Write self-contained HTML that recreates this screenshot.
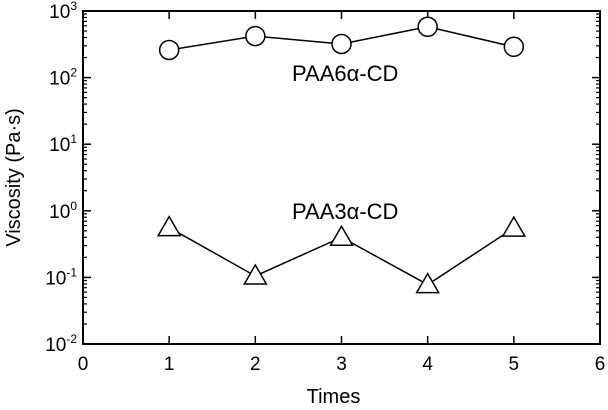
<!DOCTYPE html>
<html><head><meta charset="utf-8"><style>
html,body{margin:0;padding:0;background:#fff;}
svg{display:block;font-family:"Liberation Sans",sans-serif;}
</style></head><body>
<svg id="chart" width="608" height="410" viewBox="0 0 608 410" xmlns="http://www.w3.org/2000/svg"></svg>
<script>
const categories=[1,2,3,4,5];
const paa6Values=[260,420,320,580,290];
const paa3Values=[0.56,0.105,0.4,0.078,0.55];
const xTickLabels=[0,1,2,3,4,5,6];
const yDecades=[-2,-1,0,1,2,3];

const L=83,R=600,T=11,B=344;
const xs=v=>L+(v-0)/(6-0)*(R-L);
const ys=v=>B-(Math.log10(v)+2)/5*(B-T);
const NS="http://www.w3.org/2000/svg";
const svg=document.getElementById('chart');
function mk(tag,attrs,parent){const e=document.createElementNS(NS,tag);for(const k in attrs)e.setAttribute(k,attrs[k]);(parent||svg).appendChild(e);return e;}

const frame=mk('rect',{x:L,y:T,width:R-L,height:B-T,fill:'none',stroke:'#000','stroke-width':2});



yDecades.forEach(d=>{
  const y=ys(Math.pow(10,d));
  mk('line',{x1:L,x2:L+8,y1:y,y2:y,stroke:'#000','stroke-width':1.5});
  mk('line',{x1:R,x2:R-8,y1:y,y2:y,stroke:'#000','stroke-width':1.5});
  const t=mk('text',{x:L-6,y:y+7,'text-anchor':'end','font-size':19});
  
  
  t.innerHTML='10<tspan dy="-8" font-size="12">'+d+'</tspan>';
  if(d<3){for(let m=2;m<10;m++){const ym=ys(m*Math.pow(10,d));
    mk('line',{x1:L,x2:L+4,y1:ym,y2:ym,stroke:'#000','stroke-width':1.2});
    mk('line',{x1:R,x2:R-4,y1:ym,y2:ym,stroke:'#000','stroke-width':1.2});}}
});
xTickLabels.forEach(v=>{
  const x=xs(v);
  mk('line',{x1:x,x2:x,y1:B,y2:B-8,stroke:'#000','stroke-width':1.5});
  mk('line',{x1:x,x2:x,y1:T,y2:T+8,stroke:'#000','stroke-width':1.5});
  const t=mk('text',{x:x,y:B+26,'text-anchor':'middle','font-size':19});
  
  
  t.textContent=v;
});

function series(vals,name,shape){
  const pts=categories.map((c,i)=>[xs(c),ys(vals[i])]);
  const pl=mk('polyline',{points:pts.map(p=>p.join(',')).join(' '),fill:'none',stroke:'#000','stroke-width':1.5});
  
  
  pts.forEach(p=>{
    let m;
    if(shape==='circle') m=mk('circle',{cx:p[0],cy:p[1],r:9.5,fill:'#fff',stroke:'#000','stroke-width':1.5});
    else m=mk('polygon',{points:`${p[0]},${p[1]-11} ${p[0]-11},${p[1]+8} ${p[0]+11},${p[1]+8}`,fill:'#fff',stroke:'#000','stroke-width':1.5});
    
    
  });
}
series(paa6Values,'paa6','circle');
series(paa3Values,'paa3','triangle');

function label(txt,x,y,name){const t=mk('text',{x:x,y:y,'font-size':22});t.textContent=txt;
  
  }
label('PAA6α-CD',292,81,'paa6-label');
label('PAA3α-CD',292,219,'paa3-label');
const xt=mk('text',{x:xs(3)-8,y:403,'text-anchor':'middle','font-size':20});
xt.textContent='Times';


const yt=mk('text',{x:0,y:0,'text-anchor':'middle','font-size':20,transform:`translate(20,${(T+B)/2}) rotate(-90)`});
yt.textContent='Viscosity (Pa·s)';


</script>
</body></html>
